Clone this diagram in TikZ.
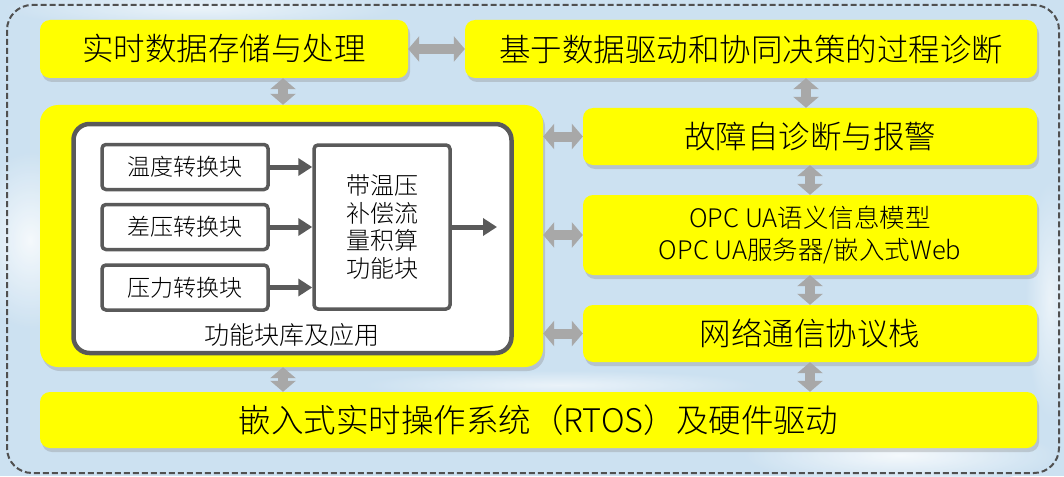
\documentclass[tikz,border=0pt]{standalone}
\usepackage{fontspec}
\setmainfont{Noto Sans CJK SC}[UprightFont={* Light}]
\usetikzlibrary{arrows.meta,shadows,calc}
\definecolor{bgblue}{RGB}{204,225,241}
\definecolor{ylw}{RGB}{255,255,0}
\definecolor{dgray}{RGB}{90,90,90}
\definecolor{lgray}{RGB}{168,168,168}
\definecolor{dashcol}{RGB}{80,80,80}
\begin{document}
\begin{tikzpicture}[x=1pt,y=-1pt,
  ybox/.style={fill=ylw, rounded corners=10pt, inner sep=0pt, align=center,
    drop shadow={opacity=0.3, shadow xshift=2pt, shadow yshift=-4pt},
    font=\fontsize{31.5}{36}\selectfont},
  wbox/.style={fill=white, draw=dgray, line width=4.5pt, rounded corners=16pt, inner sep=0pt},
  ibox/.style={fill=white, draw=dgray, line width=3.5pt, rounded corners=4pt, inner sep=0pt, align=center,
    font=\fontsize{23}{27.7}\selectfont},
  darrow/.style={draw=dgray, line width=5pt, -{Triangle[width=17pt,length=14pt]}},
  garrow/.style={draw=lgray, line width=10pt, {Triangle[width=25pt,length=11pt]}-{Triangle[width=25pt,length=11pt]}}
]
\useasboundingbox (0,0) rectangle (1064,476);
% background
\fill[bgblue] (0,0) rectangle (1064,476);
\shade[inner color=white, outer color=bgblue, opacity=0.8] (30,240) ellipse (60pt and 90pt);
\shade[inner color=white, outer color=bgblue, opacity=0.8] (900,455) ellipse (160pt and 30pt);
\shade[inner color=white, outer color=bgblue, opacity=0.6] (200,8) ellipse (200pt and 20pt);
\shade[inner color=white, outer color=bgblue, opacity=0.6] (1050,300) ellipse (25pt and 120pt);
\shade[inner color=white, outer color=bgblue, opacity=0.6] (560,385) ellipse (200pt and 15pt);
% outer dashed frame
\draw[draw=dashcol, line width=2pt, dash pattern=on 6pt off 3pt, rounded corners=25pt] (7,5) rectangle (1059,473);

% yellow boxes
\node[ybox, minimum width=368pt, minimum height=58pt] (tl) at (224,49) {实时数据存储与处理};
\node[ybox, minimum width=572pt, minimum height=58pt] (tr) at (751,49) {基于数据驱动和协同决策的过程诊断};
\node[ybox, rounded corners=18pt, minimum width=503pt, minimum height=262pt] (lib) at (291.5,236) {};
\node[ybox, minimum width=454pt, minimum height=57pt] (fz) at (810,136.5) {故障自诊断与报警};
\node[ybox, minimum width=454pt, minimum height=80pt, font=\fontsize{25.5}{32}\selectfont] (opc) at (810,235) {OPC UA语义信息模型\\OPC UA服务器/嵌入式Web};
\node[ybox, minimum width=454pt, minimum height=57pt] (net) at (810,333.5) {网络通信协议栈};
\node[ybox, minimum width=997pt, minimum height=56pt, font=\fontsize{32.5}{36}\selectfont] (bot) at (538.5,420) {嵌入式实时操作系统（RTOS）及硬件驱动};

% function block library
\node[wbox, minimum width=438pt, minimum height=229pt] (wb) at (292.5,238.5) {};
\node[font=\fontsize{25}{30}\selectfont, inner sep=0pt] (lbl) at (292,335) {功能块库及应用};
\node[ibox, minimum width=166pt, minimum height=45pt] (t1) at (185,167) {温度转换块};
\node[ibox, minimum width=166pt, minimum height=45pt] (t2) at (185,227) {差压转换块};
\node[ibox, minimum width=166pt, minimum height=45pt] (t3) at (185,287.5) {压力转换块};
\node[ibox, minimum width=136pt, minimum height=164pt, font=\fontsize{24}{27.7}\selectfont] (fb) at (382,227) {带温压\\补偿流\\量积算\\功能块};
\coordinate (outp) at (497,227);
\draw[darrow] (t1.east) -- (t1.east -| fb.west);
\draw[darrow] (t2.east) -- (t2.east -| fb.west);
\draw[darrow] (t3.east) -- (t3.east -| fb.west);
\draw[darrow] (fb.east) -- (outp);

% gray double arrows
\coordinate (c1) at (283,0);
\coordinate (c2) at (806,0);
\draw[garrow] (tl.east) -- (tr.west);
\draw[garrow] (tl.south -| c1) -- (lib.north -| c1);
\draw[garrow] (tr.south -| c2) -- (fz.north -| c2);
\draw[garrow] (lib.east |- fz.west) -- (fz.west);
\draw[garrow] (lib.east |- opc.west) -- (opc.west);
\draw[garrow] (lib.east |- net.west) -- (net.west);
\draw[garrow] (fz.south) -- (opc.north);
\draw[garrow] (opc.south) -- (net.north);
\draw[garrow] (net.south) -- (bot.north -| net.south);
\draw[garrow] (lib.south -| c1) -- (bot.north -| c1);
\end{tikzpicture}
\end{document}
